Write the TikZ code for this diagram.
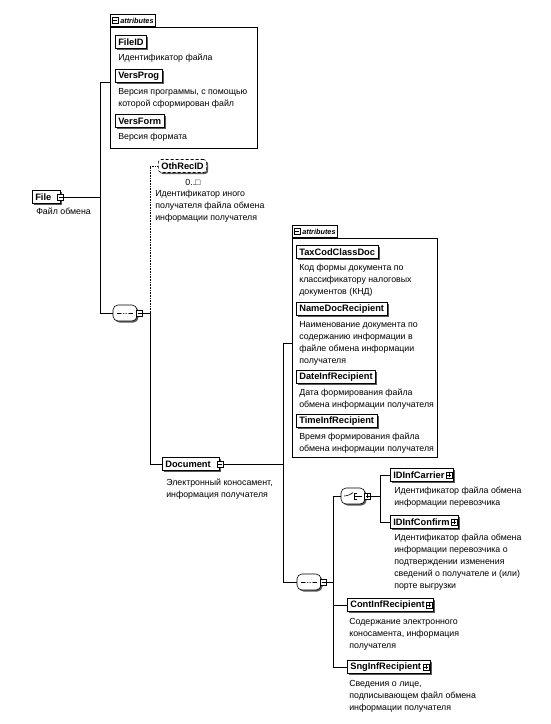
\documentclass[tikz,border=0pt]{standalone}
\usepackage{fontspec}
\setmainfont{Liberation Sans}
\usetikzlibrary{positioning}
\usetikzlibrary{shadows}

\tikzset{
  shade/.style={drop shadow={shadow xshift=1.5pt, shadow yshift=-1.5pt, fill=black!65, opacity=1}},
  elem/.style={draw, fill=white, anchor=west, shade, font=\fontsize{9.3}{10}\selectfont\bfseries,
    inner xsep=3pt, inner ysep=0pt, minimum height=13pt},
  optelem/.style={elem, densely dashed, rounded corners=3pt},
  withtgl/.style={execute at end node={\hspace{6pt}}},
  desc/.style={font=\fontsize{8.8}{12}\selectfont, align=left, inner sep=0pt},
  tgl/.style={draw, solid, fill=white, minimum size=6pt, inner sep=0pt},
  tminus/.style={tgl, path picture={
    \draw ([xshift=-2pt]path picture bounding box.center) -- ([xshift=2pt]path picture bounding box.center);}},
  tplus/.style={tgl, path picture={
    \draw ([xshift=-2pt]path picture bounding box.center) -- ([xshift=2pt]path picture bounding box.center);
    \draw ([yshift=-2pt]path picture bounding box.center) -- ([yshift=2pt]path picture bounding box.center);}},
  compos/.style={draw, fill=white, shade, rounded corners=5pt, minimum width=24pt, minimum height=16pt, inner sep=0pt},
  seqbox/.style={compos, path picture={
    \coordinate (pc) at (path picture bounding box.center);
    \draw[line width=0.8pt] ([xshift=-8pt]pc) -- ([xshift=8pt]pc);
    \foreach \d in {-2.6,0,2.6} \fill ([xshift=\d pt]pc) circle (1.2pt);}},
  choicebox/.style={compos, path picture={
    \coordinate (pc) at (path picture bounding box.center);
    \draw ([xshift=-9pt]pc) -- ([xshift=-4pt]pc) -- ([xshift=0pt,yshift=3.5pt]pc);
    \draw ([xshift=1pt,yshift=3.5pt]pc) -- ([xshift=1pt,yshift=-3.5pt]pc);
    \foreach \d in {3,0,-3} \draw ([xshift=1pt,yshift=\d pt]pc) -- ([xshift=4pt,yshift=\d pt]pc);
    \draw ([xshift=4pt]pc) -- ([xshift=9pt]pc);}},
  attrbox/.style={draw, anchor=north west, inner sep=0pt, drop shadow={shadow xshift=1pt, shadow yshift=-1pt, fill=black!70, opacity=1}, fill=white},
  attrtab/.style={draw, fill=white, anchor=south west, font=\fontsize{7.3}{8}\selectfont\bfseries\itshape,
    inner xsep=2pt, inner ysep=0pt, minimum height=12pt, execute at begin node={\hspace{8pt}}},
}

\begin{document}
\begin{tikzpicture}[x=1pt, y=-1pt, line width=0.6pt]
\useasboundingbox (0,0) rectangle (551,724);

% root
\node[elem, withtgl] (file) at (32,197) {File};
\node[tminus] (file-t) at (file.east) {};
\node[desc, below right=4pt and 4pt of file.south west] {Файл обмена};

% attributes of File
\node[attrbox, minimum width=147pt, minimum height=121pt] (attr1) at (110,27) {};
\node[attrtab] (tab1) at (attr1.north west) {attributes};
\node[tminus, right=2pt of tab1.west] {};
\coordinate (a1in) at (110,82);

\node[elem] (fileid) at (115,42) {FileID};
\node[desc, below right=5pt and 3pt of fileid.south west] {Идентификатор файла};
\node[elem] (versprog) at (115,76) {VersProg};
\node[desc, below right=5pt and 3pt of versprog.south west] {Версия программы, с помощью\\которой сформирован файл};
\node[elem] (versform) at (115,121) {VersForm};
\node[desc, below right=5pt and 3pt of versform.south west] {Версия формата};

% first sequence
\node[seqbox] (seq1) at (125,313) {};
\node[tminus, anchor=west] (seq1-t) at ([xshift=-1pt]seq1.east) {};
\coordinate (bus1) at (100,82);
\coordinate (bus2) at (150,313);

\node[optelem] (othrecid) at (158,166) {OthRecID};
\node[desc] (occ) at (193,182) {0..□};
\node[desc, below right=17pt and -3pt of othrecid.south west] {Идентификатор иного\\получателя файла обмена\\информации получателя};

\node[elem, withtgl] (document) at (162,464) {Document};
\node[tminus] (document-t) at (document.east) {};
\node[desc, below right=8pt and 4pt of document.south west] {Электронный коносамент,\\информация получателя};

% attributes of Document
\node[attrbox, minimum width=145pt, minimum height=219pt] (attr2) at (292,238) {};
\node[attrtab] (tab2) at (attr2.north west) {attributes};
\node[tminus, right=2pt of tab2.west] {};
\coordinate (a2in) at (292,343);
\coordinate (bus3) at (283,343);

\node[elem] (taxcod) at (296,252) {TaxCodClassDoc};
\node[desc, below right=5pt and 3pt of taxcod.south west] {Код формы документа по\\классификатору налоговых\\документов (КНД)};
\node[elem] (namedoc) at (296,309) {NameDocRecipient};
\node[desc, below right=5pt and 3pt of namedoc.south west] {Наименование документа по\\содержанию информации в\\файле обмена информации\\получателя};
\node[elem] (dateinf) at (296,377) {DateInfRecipient};
\node[desc, below right=5pt and 3pt of dateinf.south west] {Дата формирования файла\\обмена информации получателя};
\node[elem] (timeinf) at (296,421) {TimeInfRecipient};
\node[desc, below right=5pt and 3pt of timeinf.south west] {Время формирования файла\\обмена информации получателя};

% second sequence and choice
\node[seqbox] (seq2) at (309,582) {};
\node[tminus, anchor=west] (seq2-t) at ([xshift=-1pt]seq2.east) {};
\coordinate (bus4) at (333,0);

\node[choicebox] (choice) at (353,496) {};
\node[tplus, anchor=west] (choice-t) at ([xshift=-1pt]choice.east) {};
\coordinate (bus5) at (380,0);

\node[elem, withtgl] (idcarrier) at (390,475) {IDInfCarrier};
\node[tplus] (idcarrier-t) at ([xshift=-4.5pt]idcarrier.east) {};
\node[desc, below right=5pt and 4pt of idcarrier.south west] {Идентификатор файла обмена\\информации перевозчика};
\node[elem, withtgl] (idconfirm) at (390,522) {IDInfConfirm};
\node[tplus] (idconfirm-t) at ([xshift=-4.5pt]idconfirm.east) {};
\node[desc, below right=5pt and 4pt of idconfirm.south west] {Идентификатор файла обмена\\информации перевозчика о\\подтверждении изменения\\сведений о получателе и (или)\\порте выгрузки};

\node[elem, withtgl] (continf) at (347,605) {ContInfRecipient};
\node[tplus] (continf-t) at ([xshift=-4.5pt]continf.east) {};
\node[desc, below right=6pt and 2pt of continf.south west] {Содержание электронного\\коносамента, информация\\получателя};
\node[elem, withtgl] (snginf) at (347,667) {SngInfRecipient};
\node[tplus] (snginf-t) at ([xshift=-4.5pt]snginf.east) {};
\node[desc, below right=6pt and 2pt of snginf.south west] {Сведения о лице,\\подписывающем файл обмена\\информации получателя};

% connectors
\draw (a1in) -- (bus1) |- (seq1.west);
\draw (file-t.east) -- (file-t.east -| bus1);
\draw (seq1-t.east) -- (bus2) |- (document.west);
\draw[densely dotted] (bus2) |- (othrecid.west);
\draw (document-t.east) -- (document-t.east -| bus3);
\draw (a2in) -- (bus3) |- (seq2.west);
\draw (choice.west) -- (choice.west -| bus4) |- (snginf.west);
\draw (seq2-t.east) -- (seq2-t.east -| bus4);
\draw (continf.west) -- (continf.west -| bus4);
\draw (idcarrier.west) -- (idcarrier.west -| bus5) |- (idconfirm.west);
\draw (choice-t.east) -- (choice-t.east -| bus5);
\end{tikzpicture}
\end{document}
